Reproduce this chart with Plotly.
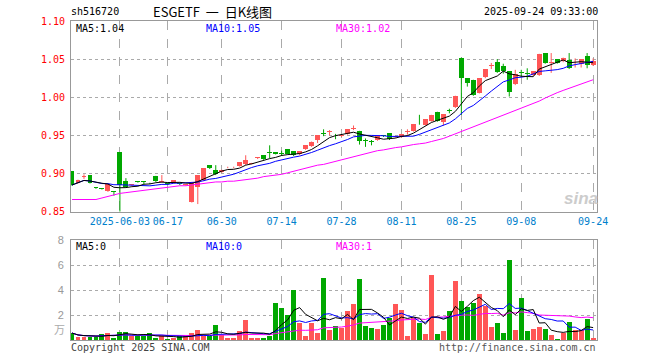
import plotly.graph_objects as go
import pandas as pd

# ---------------- data ----------------
tick_idx = [8, 16, 25, 35, 45, 55, 65, 75, 87]
tick_labels = ["2025-06-03", "06-17", "06-30", "07-14", "07-28", "08-11", "08-25", "09-08", "09-24"]

opens = [0.903, 0.888, 0.896, 0.898, 0.8815, 0.880, 0.877, 0.876, 0.928, 0.890,
         0.885, 0.8895, 0.889, 0.8875, 0.897, 0.889, 0.8865, 0.888, 0.888, 0.885,
         0.863, 0.883, 0.891, 0.911, 0.905, 0.902, 0.908, 0.908, 0.910, 0.912,
         0.913, 0.920, 0.924, 0.9275, 0.928, 0.9265, 0.932, 0.929, 0.925, 0.932,
         0.936, 0.944, 0.9525, 0.954, 0.9505, 0.949, 0.952, 0.958, 0.956, 0.9435,
         0.9415, 0.944, 0.9495, 0.953, 0.948, 0.948, 0.954, 0.956, 0.9675, 0.964,
         0.969, 0.981, 0.968, 0.982, 0.987, 1.052, 1.025, 1.023, 1.006, 1.026,
         1.041, 1.046, 1.041, 1.034, 1.017, 1.0325, 1.0315, 1.029, 1.029, 1.058,
         1.045, 1.050, 1.047, 1.049, 1.047, 1.044, 1.054, 1.042]
closes = [0.885, 0.891, 0.897, 0.888, 0.881, 0.8795, 0.886, 0.8755, 0.885, 0.882,
          0.8855, 0.889, 0.8885, 0.887, 0.890, 0.8895, 0.886, 0.891, 0.886, 0.8855,
          0.887, 0.898, 0.907, 0.907, 0.899, 0.905, 0.9085, 0.9085, 0.915, 0.918,
          0.9135, 0.9205, 0.919, 0.927, 0.926, 0.926, 0.926, 0.924, 0.929, 0.937,
          0.942, 0.950, 0.952, 0.9545, 0.950, 0.950, 0.958, 0.9585, 0.943, 0.943,
          0.941, 0.949, 0.949, 0.945, 0.9485, 0.952, 0.9545, 0.965, 0.967, 0.971,
          0.977, 0.969, 0.978, 0.9815, 1.002, 1.025, 1.019, 1.003, 1.025, 1.037,
          1.0415, 1.033, 1.035, 1.007, 1.031, 1.032, 1.031, 1.034, 1.057, 1.045,
          1.0455, 1.045, 1.052, 1.039, 1.0475, 1.050, 1.042, 1.048]
highs = [0.903, 0.892, 0.899, 0.898, 0.882, 0.880, 0.886, 0.876, 0.928, 0.894,
         0.886, 0.890, 0.889, 0.888, 0.897, 0.898, 0.887, 0.891, 0.888, 0.886,
         0.889, 0.898, 0.907, 0.911, 0.911, 0.905, 0.909, 0.909, 0.915, 0.924,
         0.914, 0.921, 0.924, 0.937, 0.928, 0.930, 0.932, 0.929, 0.929, 0.937,
         0.942, 0.950, 0.958, 0.957, 0.952, 0.951, 0.958, 0.963, 0.956, 0.946,
         0.944, 0.949, 0.950, 0.953, 0.949, 0.952, 0.958, 0.965, 0.977, 0.971,
         0.977, 0.981, 0.978, 0.985, 1.002, 1.052, 1.025, 1.023, 1.025, 1.037,
         1.045, 1.050, 1.044, 1.034, 1.036, 1.036, 1.038, 1.034, 1.057, 1.058,
         1.058, 1.050, 1.052, 1.058, 1.051, 1.050, 1.058, 1.051]
lows = [0.884, 0.887, 0.893, 0.887, 0.880, 0.879, 0.876, 0.871, 0.850, 0.882,
        0.884, 0.888, 0.886, 0.886, 0.889, 0.888, 0.885, 0.887, 0.885, 0.884,
        0.862, 0.860, 0.890, 0.906, 0.898, 0.901, 0.907, 0.907, 0.909, 0.911,
        0.912, 0.919, 0.918, 0.920, 0.925, 0.923, 0.925, 0.923, 0.924, 0.931,
        0.935, 0.940, 0.949, 0.950, 0.945, 0.948, 0.951, 0.957, 0.938, 0.935,
        0.937, 0.943, 0.948, 0.944, 0.947, 0.947, 0.951, 0.955, 0.964, 0.963,
        0.968, 0.968, 0.963, 0.979, 0.986, 0.977, 1.014, 1.002, 1.005, 1.025,
        1.037, 1.032, 1.031, 1.001, 1.016, 1.027, 1.023, 1.028, 1.028, 1.044,
        1.032, 1.044, 1.046, 1.037, 1.039, 1.039, 1.038, 1.041]
volumes = [0.56, 0.25, 0.25, 0.25, 0.25, 0.50, 0.56, 0.16, 0.66, 0.66,
           0.30, 0.30, 0.30, 0.56, 0.20, 0.30, 0.10, 0.20, 0.30, 0.30,
           0.60, 0.82, 0.35, 0.30, 1.22, 0.40, 0.20, 0.15, 0.74, 1.57,
           0.15, 0.15, 0.15, 0.30, 3.00, 2.60, 2.00, 4.00, 1.40, 0.30,
           1.40, 0.60, 5.00, 0.82, 1.15, 0.95, 2.34, 2.90, 4.90, 1.15,
           1.00, 0.90, 1.20, 1.80, 2.90, 2.40, 0.34, 1.76, 1.36, 0.50,
           5.20, 0.50, 0.74, 2.34, 4.70, 3.14, 2.62, 3.00, 3.70, 2.70,
           1.03, 1.36, 0.56, 6.43, 0.78, 3.40, 0.70, 0.90, 1.03, 0.90,
           0.42, 0.10, 0.60, 1.44, 0.82, 0.82, 1.70, 0.20]
ma30_price = [0.866, 0.866, 0.866, 0.866, 0.866, 0.868, 0.870, 0.872, 0.874, 0.875,
              0.876, 0.877, 0.878, 0.879, 0.880, 0.881, 0.882, 0.883, 0.884, 0.884,
              0.885, 0.886, 0.887, 0.888, 0.889, 0.889, 0.890, 0.890, 0.891, 0.892,
              0.893, 0.894, 0.896, 0.897, 0.898, 0.899, 0.901, 0.903, 0.905, 0.907,
              0.909, 0.911, 0.912, 0.914, 0.916, 0.918, 0.920, 0.922, 0.924, 0.926,
              0.928, 0.930, 0.931, 0.933, 0.934, 0.935, 0.937, 0.938, 0.939, 0.940,
              0.942, 0.944, 0.946, 0.949, 0.952, 0.955, 0.958, 0.961, 0.964, 0.967,
              0.970, 0.974, 0.977, 0.980, 0.983, 0.986, 0.989, 0.992, 0.995, 0.999,
              1.003, 1.006, 1.009, 1.012, 1.015, 1.018, 1.021, 1.023]

# ---------------- styling ----------------
RED = "#FF5656"
GREEN = "#00A800"
GRID = "#AAAAAA"
BORDER = "#999999"
MONO = "DejaVu Sans Mono"

W, H = 660, 360
ML, MR, MT, MB = 71, 63, 21, 20
PW, PH = W - ML - MR, H - MT - MB


def px(x, y):
    return (x - ML) / PW, (H - MB - y) / PH


n = len(closes)
idx = list(range(n))
up = [c > o for o, c in zip(opens, closes)]
cols = [RED if u else GREEN for u in up]

cs = pd.Series(closes)
ma5 = cs.rolling(5, min_periods=1).mean()
ma10 = cs.rolling(10, min_periods=1).mean()
vs = pd.Series(volumes)
vma5 = vs.rolling(5, min_periods=1).mean()
vma10 = vs.rolling(10, min_periods=1).mean()
vma30 = vs.rolling(30, min_periods=1).mean()

fig = go.Figure()

# wicks
for flag, col in ((True, RED), (False, GREEN)):
    xs, ys = [], []
    for i in idx:
        if up[i] == flag:
            xs += [i, i, None]
            ys += [max(highs[i], opens[i], closes[i]), min(lows[i], opens[i], closes[i]), None]
    fig.add_trace(go.Scatter(x=xs, y=ys, mode="lines", line=dict(color=col, width=1),
                             hoverinfo="skip", showlegend=False, xaxis="x", yaxis="y"))

# bodies
bases = [min(o, c) for o, c in zip(opens, closes)]
hts = [max(abs(c - o), 0.0012) for o, c in zip(opens, closes)]
fig.add_trace(go.Bar(x=idx, y=hts, base=bases, width=0.82, marker=dict(color=cols, line=dict(width=0)),
                     showlegend=False, xaxis="x", yaxis="y"))

# MA lines (price)
fig.add_trace(go.Scatter(x=idx, y=ma30_price, mode="lines", line=dict(color="#FF00FF", width=1),
                         showlegend=False, xaxis="x", yaxis="y"))
fig.add_trace(go.Scatter(x=idx, y=ma10, mode="lines", line=dict(color="#0000FF", width=1),
                         showlegend=False, xaxis="x", yaxis="y"))
fig.add_trace(go.Scatter(x=idx, y=ma5, mode="lines", line=dict(color="#000000", width=1),
                         showlegend=False, xaxis="x", yaxis="y"))

# volume
fig.add_trace(go.Bar(x=idx, y=volumes, width=0.82, marker=dict(color=cols, line=dict(width=0)),
                     showlegend=False, xaxis="x2", yaxis="y2"))
fig.add_trace(go.Scatter(x=idx, y=vma30, mode="lines", line=dict(color="#FF00FF", width=1),
                         showlegend=False, xaxis="x2", yaxis="y2"))
fig.add_trace(go.Scatter(x=idx, y=vma10, mode="lines", line=dict(color="#0000FF", width=1),
                         showlegend=False, xaxis="x2", yaxis="y2"))
fig.add_trace(go.Scatter(x=idx, y=vma5, mode="lines", line=dict(color="#000000", width=1),
                         showlegend=False, xaxis="x2", yaxis="y2"))

xr = [-1 / 5.99, -1 / 5.99 + PW / 5.99]
price_bottom = px(0, 211.7)[1]
vol_top = px(0, 240.3)[1]

common_x = dict(range=xr, showgrid=True, gridcolor=GRID, griddash="dash", gridwidth=1,
                tickvals=tick_idx, showline=True, linecolor=BORDER, linewidth=1, mirror=True,
                zeroline=False, ticks="", fixedrange=True)

fig.update_layout(
    width=W, height=H, margin=dict(l=ML, r=MR, t=MT, b=MB),
    paper_bgcolor="white", plot_bgcolor="white", bargap=0, showlegend=False,
    hovermode=False,
    xaxis=dict(common_x, domain=[0, 1], anchor="y", ticktext=tick_labels, showticklabels=True,
               tickfont=dict(family=MONO, size=10, color="#0080CC")),
    xaxis2=dict(common_x, domain=[0, 1], anchor="y2", matches="x", showticklabels=False),
    yaxis=dict(domain=[price_bottom, 1], range=[0.85, 1.10], tickvals=[0.85, 0.90, 0.95, 1.00, 1.05, 1.10],
               ticktext=["0.85", "0.90", "0.95", "1.00", "1.05", "1.10"],
               tickfont=dict(family=MONO, size=10, color="#FF0000"), showgrid=True, gridcolor=GRID,
               griddash="dot", showline=True, linecolor=BORDER, mirror=True, zeroline=False, ticks="",
               ticklabelstandoff=3, anchor="x", fixedrange=True),
    yaxis2=dict(domain=[0, vol_top], range=[0, 8], tickvals=[2, 4, 6, 8],
                tickfont=dict(family="Liberation Sans", size=11, color="#999999"), showgrid=True,
                gridcolor=GRID, griddash="dot", showline=True, linecolor=BORDER, mirror=True,
                zeroline=False, ticks="", ticklabelstandoff=4, anchor="x2", fixedrange=True),
)


def text(x, y, s, color="#000", size=10, family=MONO, xanchor="left", **kw):
    xp, yp = px(x, y)
    fig.add_annotation(x=xp, y=yp, xref="paper", yref="paper", text=s, showarrow=False,
                       xanchor=xanchor, yanchor="middle", font=dict(family=family, size=size, color=color), **kw)


text(69, 12, "sh516720")
text(151, 12, "ESGETF&nbsp;&nbsp;一&nbsp;&nbsp;日K线图", size=13, family="Noto Sans CJK SC", xanchor="left")
text(600, 12, "2025-09-24 09:33:00", xanchor="right")

text(74, 28, "MA5:1.04")
text(204, 28, "MA10:1.05", color="#0000FF")
text(334, 28, "MA30:1.02", color="#FF00FF")

text(74, 246, "MA5:0")
text(204, 246, "MA10:0", color="#0000FF")
text(334, 246, "MA30:1", color="#FF00FF")

text(67, 329, "万", color="#AAAAAA", size=11, family="Noto Sans CJK SC", xanchor="right")
text(69, 347, "Copyright 2025 SINA.COM", color="#444444")
text(598, 347, "http://finance.sina.com.cn", color="#555555", xanchor="right")
text(581, 198, "<b><i>sina</i></b>", color="#CCCCCC", size=17, family="Liberation Sans", xanchor="center")

fig.write_html("out.html", config={"displayModeBar": False, "staticPlot": True},
               post_script="document.body.style.margin='0';document.body.style.overflow='hidden';")
